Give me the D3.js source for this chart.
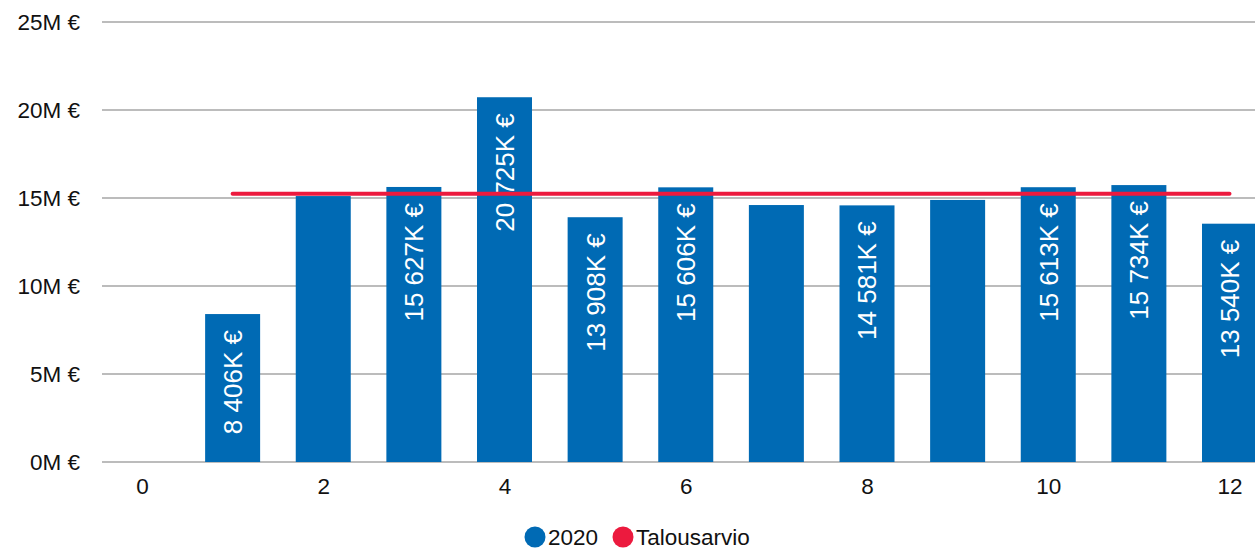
<!DOCTYPE html>
<html>
<head>
<meta charset="utf-8">
<script src="https://cdn.jsdelivr.net/npm/d3@7"></script>
<style>
  html, body { margin: 0; padding: 0; background: #fff; }
  svg { display: block; font-family: "Liberation Sans", Arial, sans-serif; }
</style>
</head>
<body>
<svg id="chart" width="1255" height="549"></svg>
<script>
// ---- data ----
const months = [1, 2, 3, 4, 5, 6, 7, 8, 9, 10, 11, 12];
const values2020 = [8406, 15110, 15627, 20725, 13908, 15606, 14600, 14581, 14890, 15613, 15734, 13540]; // K €
const budget = [15240, 15240, 15240, 15240, 15240, 15240, 15240, 15240, 15240, 15240, 15240, 15240]; // K €
const showLabel = [true, false, true, true, true, true, false, true, false, true, true, true];
const yTicks = [0, 5, 10, 15, 20, 25]; // M €
const xTicks = [0, 2, 4, 6, 8, 10, 12];
const seriesNames = ["2020", "Talousarvio"];

// ---- layout ----
const W = 1255, H = 549;
const blue = "#006ab4", red = "#ec1a3e", grid = "#bcbcbc";
const svg = d3.select("#chart");

const x = d3.scaleLinear().domain([0, 12]).range([142, 1229.5]);
const y = d3.scaleLinear().domain([0, 25000]).range([462, 22]);
const barW = 55;
const axisFont = 22.5;

const fmt = v => d3.format(",")(v).replace(/,/g, " ") + "K €";

// grid lines
svg.append("g").selectAll("line").data(yTicks).join("line")
  .attr("x1", 102).attr("x2", W)
  .attr("y1", d => y(d * 1000)).attr("y2", d => y(d * 1000))
  .attr("stroke", grid).attr("stroke-width", 2);

// y axis labels
const yAxis = d3.axisLeft(y).tickValues(yTicks.map(d => d * 1000))
  .tickFormat(d => (d / 1000) + "M €").tickSize(0).tickPadding(0);
const ya = svg.append("g").attr("transform", "translate(80,0)").call(yAxis);
ya.select(".domain").remove();
ya.selectAll("text").attr("font-size", axisFont).attr("fill", "#111")
  .attr("font-family", "Liberation Sans, Arial, sans-serif");

// x axis labels
const xAxis = d3.axisBottom(x).tickValues(xTicks).tickFormat(d3.format("d")).tickSize(0).tickPadding(0);
const xa = svg.append("g").attr("transform", "translate(0,478)").call(xAxis);
xa.select(".domain").remove();
xa.selectAll("text").attr("font-size", axisFont).attr("fill", "#111")
  .attr("font-family", "Liberation Sans, Arial, sans-serif");

// bars
svg.append("g").selectAll("rect").data(months).join("rect")
  .attr("x", (d, i) => x(d) - barW / 2)
  .attr("width", barW)
  .attr("y", (d, i) => y(values2020[i]))
  .attr("height", (d, i) => y(0) - y(values2020[i]))
  .attr("fill", blue);

// bar labels
svg.append("g").selectAll("text").data(months.filter((d, i) => showLabel[i])).join("text")
  .attr("transform", d => {
    const i = months.indexOf(d);
    return `translate(${x(d)},${y(values2020[i]) + 16}) rotate(-90)`;
  })
  .attr("text-anchor", "end")
  .attr("dy", "0.36em")
  .attr("font-size", 26)
  .attr("fill", "#fff")
  .text(d => fmt(values2020[months.indexOf(d)]));

// budget line
const line = d3.line().x((d, i) => x(months[i])).y(d => y(d));
svg.append("path").datum(budget)
  .attr("d", line)
  .attr("fill", "none")
  .attr("stroke", red)
  .attr("stroke-width", 4)
  .attr("stroke-linecap", "round");

// legend
const legend = svg.append("g");
const legItems = [
  { name: seriesNames[0], color: blue, cx: 535, tx: 548 },
  { name: seriesNames[1], color: red, cx: 623, tx: 636 }
];
legend.selectAll("circle").data(legItems).join("circle")
  .attr("cx", d => d.cx).attr("cy", 537).attr("r", 10.5).attr("fill", d => d.color);
legend.selectAll("text").data(legItems).join("text")
  .attr("x", d => d.tx).attr("y", 537).attr("dy", "0.36em")
  .attr("font-size", axisFont).attr("fill", "#111")
  .text(d => d.name);
</script>
</body>
</html>
